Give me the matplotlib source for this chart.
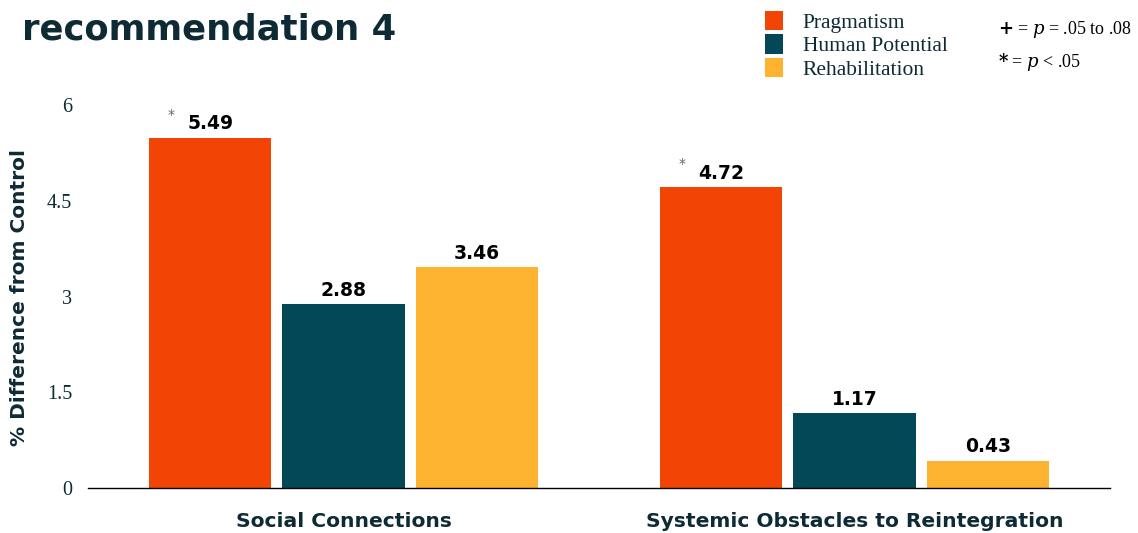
import numpy as np
import matplotlib.pyplot as plt

# data
categories = ["Social Connections", "Systemic Obstacles to Reintegration"]
series = ["Pragmatism", "Human Potential", "Rehabilitation"]
values = {
    "Pragmatism": [5.49, 4.72],
    "Human Potential": [2.88, 1.17],
    "Rehabilitation": [3.46, 0.43],
}
significant = {
    "Pragmatism": [True, True],
    "Human Potential": [False, False],
    "Rehabilitation": [False, False],
}
yticks = [0, 1.5, 3, 4.5, 6]
ytick_labels = ["0", "1.5", "3", "4.5", "6"]

colors = ["#F24405", "#034857", "#FDB330"]
dark = "#0d2a35"
sans = "DejaVu Sans"
serif = "Liberation Serif"

fig = plt.figure(figsize=(11.38, 5.33), dpi=100)
ax = fig.add_axes([88 / 1138, 45 / 533, 1022 / 1138, 383 / 533])

x = np.arange(len(categories))
width = 0.239
step = 0.261

for i, name in enumerate(series):
    pos = x + (i - 1) * step
    bars = ax.bar(pos, values[name], width=width, color=colors[i], label=name)
    for b, v, sig in zip(bars, values[name], significant[name]):
        ax.annotate(f"{v:.2f}", (b.get_x() + b.get_width() / 2, v),
                    xytext=(0, 3), textcoords="offset points",
                    ha="center", va="bottom", fontsize=13.5,
                    fontweight="heavy", family=sans, color="black")
        if sig:
            ax.annotate("*", (b.get_x(), v),
                        xytext=(13, 11), textcoords="offset points",
                        ha="left", va="bottom", fontsize=10,
                        family=sans, color="#666666")

ax.set_xlim(-0.5, 1.5)
ax.set_ylim(0, 6)
ax.set_yticks(yticks)
ax.set_yticklabels(ytick_labels, family=serif, fontsize=14.5, color=dark)
ax.set_xticks(x)
ax.set_xticklabels(categories, family=sans, fontsize=14.6, fontweight="bold",
                   color=dark)
ax.tick_params(axis="y", length=0, pad=11.5)
ax.tick_params(axis="x", length=0, pad=17)
for s in ["top", "right", "left"]:
    ax.spines[s].set_visible(False)
ax.spines["bottom"].set_color("black")
ax.spines["bottom"].set_linewidth(1)

fig.text(20 / 1138, 1 - 297 / 533, "% Difference from Control", rotation=90,
         ha="center", va="center", family=sans, fontsize=14.5,
         fontweight="bold", color=dark)

fig.text(22 / 1138, 1 - 30 / 533, "recommendation 4", ha="left",
         va="center", family=sans, fontsize=25.5, fontweight="bold",
         color=dark)

# legend
leg = fig.legend(loc="upper left", bbox_to_anchor=(750 / 1138, 1 + 4 / 533),
                 frameon=False, prop={"family": serif, "size": 15.5},
                 handlelength=0.85, handleheight=1.0, handletextpad=0.9,
                 labelspacing=0.06, borderpad=0.2)
for t in leg.get_texts():
    t.set_color(dark)

fig.text(998 / 1138, 1 - 30 / 533, r"$\mathbf{+}$ = $p$ = .05 to .08",
         ha="left", va="center", fontsize=13, color="black",
         family=serif, math_fontfamily="dejavuserif")
fig.text(998 / 1138, 1 - 62 / 533, r"$\mathbf{*}$ = $p$ < .05",
         ha="left", va="center", fontsize=13, color="black",
         family=serif, math_fontfamily="dejavuserif")

fig.savefig("out.png", dpi=100, facecolor="white")
